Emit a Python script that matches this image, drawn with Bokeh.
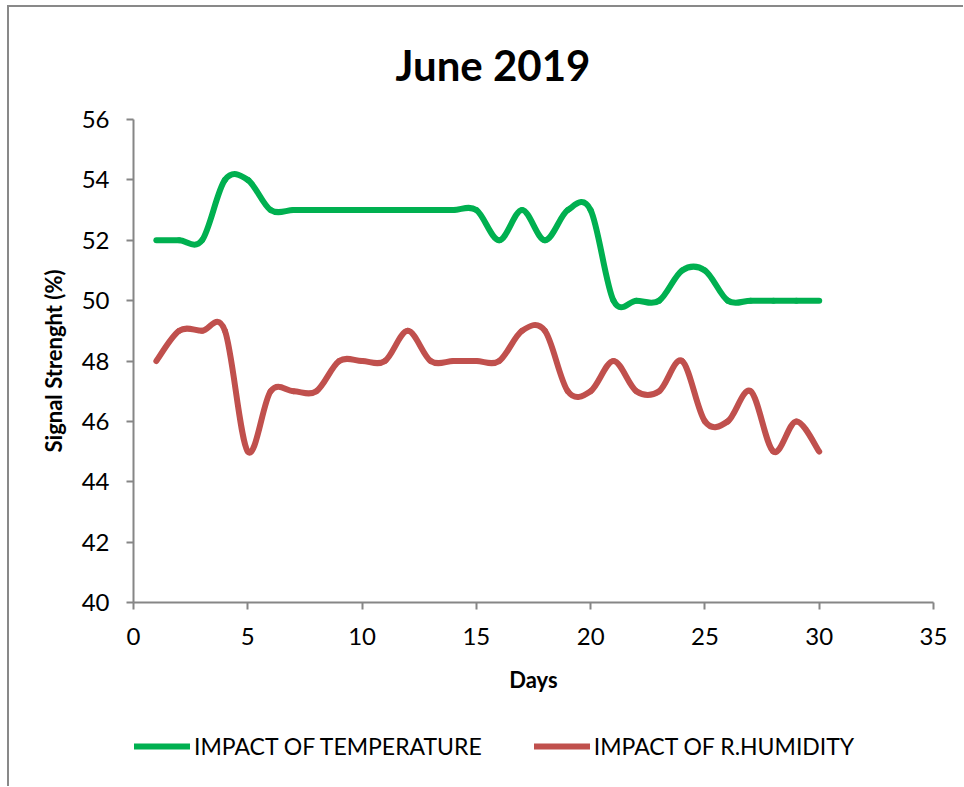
from bokeh.plotting import figure
from bokeh.layouts import column
from bokeh.models import Range1d, Legend, LegendItem, Title, FixedTicker
from bokeh.embed import file_html
from bokeh.resources import INLINE

# ---- data ----
days = list(range(1, 31))
temperature = [52, 52, 52, 54, 54, 53, 53, 53, 53, 53,
               53, 53, 53, 53, 53, 52, 53, 52, 53, 53,
               50, 50, 50, 51, 51, 50, 50, 50, 50, 50]
humidity = [48, 49, 49, 49, 45, 47, 47, 47, 48, 48,
            48, 49, 48, 48, 48, 48, 49, 49, 47, 47,
            48, 47, 47, 48, 46, 46, 47, 45, 46, 45]
x_ticks = [0, 5, 10, 15, 20, 25, 30, 35]
y_ticks = [40, 42, 44, 46, 48, 50, 52, 54, 56]
series_names = ["IMPACT OF TEMPERATURE", "IMPACT OF R.HUMIDITY"]
series_colors = ["#00B050", "#C0504D"]

FONT = "Lato"


def smooth_segments(xs, ys):
    """Bezier control points (Catmull-Rom style, like a spreadsheet 'smoothed line')."""
    n = len(xs)
    out = dict(x0=[], y0=[], x1=[], y1=[], cx0=[], cy0=[], cx1=[], cy1=[])
    for i in range(n - 1):
        xa, ya = (xs[i - 1], ys[i - 1]) if i > 0 else (xs[i], ys[i])
        xb, yb = xs[i], ys[i]
        xc, yc = xs[i + 1], ys[i + 1]
        xd, yd = (xs[i + 2], ys[i + 2]) if i + 2 < n else (xs[i + 1], ys[i + 1])
        out["x0"].append(xb); out["y0"].append(yb)
        out["x1"].append(xc); out["y1"].append(yc)
        out["cx0"].append(xb + (xc - xa) / 6.0); out["cy0"].append(yb + (yc - ya) / 6.0)
        out["cx1"].append(xc - (xd - xb) / 6.0); out["cy1"].append(yc - (yd - yb) / 6.0)
    return out


# ---- main chart ----
p = figure(width=954, height=695, output_backend="svg", toolbar_location=None,
           x_range=Range1d(0, 35), y_range=Range1d(40, 56),
           min_border_left=124, min_border_right=30, min_border_top=109, min_border_bottom=100,
           title=None)

p.add_layout(Title(text="June 2019", align="left", text_font=FONT, text_font_size="42px",
                   text_font_style="bold", text_color="#000000", offset=262, standoff=60), "above")

for vals, col in zip([temperature, humidity], series_colors):
    seg = smooth_segments(days, vals)
    p.bezier(x0=seg["x0"], y0=seg["y0"], x1=seg["x1"], y1=seg["y1"],
             cx0=seg["cx0"], cy0=seg["cy0"], cx1=seg["cx1"], cy1=seg["cy1"],
             line_color=col, line_width=6, line_cap="round", line_join="round")

p.grid.visible = False
p.outline_line_color = None

p.xaxis.ticker = FixedTicker(ticks=x_ticks)
p.yaxis.ticker = FixedTicker(ticks=y_ticks)
for ax in (p.xaxis[0], p.yaxis[0]):
    ax.axis_line_color = "#868686"
    ax.axis_line_width = 2
    ax.major_tick_line_color = "#868686"
    ax.major_tick_line_width = 2
    ax.major_tick_out = 7
    ax.major_tick_in = 0
    ax.minor_tick_line_color = None
    ax.major_label_text_font = FONT
    ax.major_label_text_font_size = "24px"
    ax.major_label_text_color = "#000000"
    ax.axis_label_text_font = FONT
    ax.axis_label_text_font_size = "22px"
    ax.axis_label_text_font_style = "bold"
    ax.axis_label_text_color = "#000000"

p.xaxis.axis_label = "Days"
p.yaxis.axis_label = "Signal Strenght (%)"
p.xaxis.major_label_standoff = 18
p.yaxis.major_label_standoff = 17
p.xaxis.axis_label_standoff = 18
p.yaxis.axis_label_standoff = 12

# ---- legend strip below the chart (series drawn outside its visible range; only the key shows) ----
pl = figure(width=954, height=84, output_backend="svg", toolbar_location=None,
            x_range=Range1d(0, 35), y_range=Range1d(0, 1),
            x_axis_type=None, y_axis_type=None,
            min_border_left=0, min_border_right=0, min_border_top=0, min_border_bottom=0)
pl.grid.visible = False
pl.outline_line_color = None
leg_renderers = [pl.line(x=days, y=vals, line_color=c, line_width=6, line_cap="round")
                 for vals, c in zip([temperature, humidity], series_colors)]
legend = Legend(items=[LegendItem(label=n, renderers=[r]) for n, r in zip(series_names, leg_renderers)],
                orientation="horizontal", location=(1, 26),
                glyph_width=56, glyph_height=20, label_height=20, label_standoff=4,
                spacing=52, padding=0, margin=0,
                label_text_font=FONT, label_text_font_size="23px", label_text_color="#000000",
                border_line_color=None, background_fill_alpha=0)
pl.add_layout(legend, "center")

page = column(p, pl, spacing=0,
              styles={"border-top": "2px solid #898989", "border-left": "2px solid #898989",
                      "margin-left": "7px", "margin-top": "5px"})

open("out.html", "w").write(file_html(page, INLINE))
